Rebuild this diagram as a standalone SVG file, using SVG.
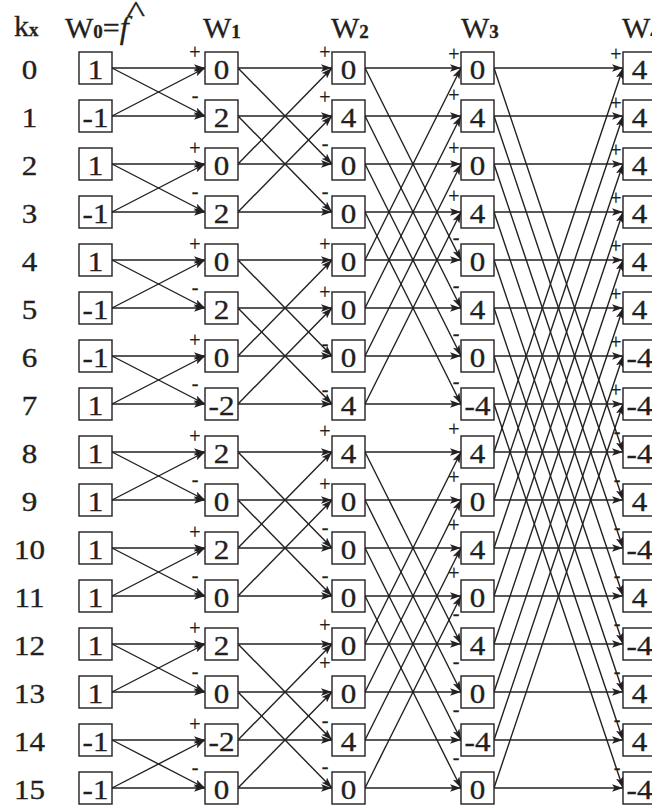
<svg xmlns="http://www.w3.org/2000/svg" width="652" height="805" viewBox="0 0 652 805">
<defs>
<style>
.b{fill:#fff;stroke:#231f20;stroke-width:1.4}
.t{font-family:"Liberation Serif","Times New Roman",serif;font-size:27px;fill:#231f20;stroke:#231f20;stroke-width:0.35;text-anchor:middle}
.h{font-family:"Liberation Serif","Times New Roman",serif;font-size:30px;fill:#231f20;stroke:#231f20;stroke-width:0.3}
.sb{font-weight:bold;font-size:19px}
.s{font-family:"Liberation Serif","Times New Roman",serif;font-size:20px;fill:#231f20;stroke:#231f20;stroke-width:0.3;text-anchor:middle}
#conn line{stroke:#231f20;stroke-width:1.4;marker-end:url(#a)}
</style>
<marker id="a" markerWidth="12" markerHeight="9" refX="11" refY="4" orient="auto" markerUnits="userSpaceOnUse"><path d="M0,0.3 L11,4 L0,7.7 L2.5,4 z" fill="#231f20"/></marker>
</defs>
<rect width="652" height="805" fill="#fff"/>
<g id="header">
<text class="h" x="14" y="36" font-size="34">k<tspan class="sb" font-size="20px">x</tspan></text>
<text class="h" x="65" y="38">W<tspan class="sb">0</tspan>=<tspan font-style="italic" font-size="32px">f</tspan></text>
<text class="h" transform="translate(136,22) scale(1.3,1)" text-anchor="middle" font-size="24" stroke-width="0">^</text>
<text class="h" x="203" y="38">W<tspan class="sb">1</tspan></text>
<text class="h" x="331" y="38">W<tspan class="sb">2</tspan></text>
<text class="h" x="461" y="38">W<tspan class="sb">3</tspan></text>
<text class="h" x="622" y="38">W<tspan class="sb">4</tspan></text>
</g>
<g id="rowlabels">
<text class="t" transform="translate(29.5,78.5) scale(1.15,1)">0</text>
<text class="t" transform="translate(29.5,126.5) scale(1.15,1)">1</text>
<text class="t" transform="translate(29.5,174.5) scale(1.15,1)">2</text>
<text class="t" transform="translate(29.5,222.5) scale(1.15,1)">3</text>
<text class="t" transform="translate(29.5,270.5) scale(1.15,1)">4</text>
<text class="t" transform="translate(29.5,318.5) scale(1.15,1)">5</text>
<text class="t" transform="translate(29.5,366.5) scale(1.15,1)">6</text>
<text class="t" transform="translate(29.5,414.5) scale(1.15,1)">7</text>
<text class="t" transform="translate(29.5,462.5) scale(1.15,1)">8</text>
<text class="t" transform="translate(29.5,510.5) scale(1.15,1)">9</text>
<text class="t" transform="translate(29.5,558.5) scale(1.15,1)">10</text>
<text class="t" transform="translate(29.5,606.5) scale(1.15,1)">11</text>
<text class="t" transform="translate(29.5,654.5) scale(1.15,1)">12</text>
<text class="t" transform="translate(29.5,702.5) scale(1.15,1)">13</text>
<text class="t" transform="translate(29.5,750.5) scale(1.15,1)">14</text>
<text class="t" transform="translate(29.5,798.5) scale(1.15,1)">15</text>
</g>
<g id="conn">
<line x1="112" y1="68" x2="205" y2="68"/><line x1="112" y1="116" x2="205" y2="68"/>
<line x1="112" y1="116" x2="205" y2="116"/><line x1="112" y1="68" x2="205" y2="116"/>
<line x1="112" y1="164" x2="205" y2="164"/><line x1="112" y1="212" x2="205" y2="164"/>
<line x1="112" y1="212" x2="205" y2="212"/><line x1="112" y1="164" x2="205" y2="212"/>
<line x1="112" y1="260" x2="205" y2="260"/><line x1="112" y1="308" x2="205" y2="260"/>
<line x1="112" y1="308" x2="205" y2="308"/><line x1="112" y1="260" x2="205" y2="308"/>
<line x1="112" y1="356" x2="205" y2="356"/><line x1="112" y1="404" x2="205" y2="356"/>
<line x1="112" y1="404" x2="205" y2="404"/><line x1="112" y1="356" x2="205" y2="404"/>
<line x1="112" y1="452" x2="205" y2="452"/><line x1="112" y1="500" x2="205" y2="452"/>
<line x1="112" y1="500" x2="205" y2="500"/><line x1="112" y1="452" x2="205" y2="500"/>
<line x1="112" y1="548" x2="205" y2="548"/><line x1="112" y1="596" x2="205" y2="548"/>
<line x1="112" y1="596" x2="205" y2="596"/><line x1="112" y1="548" x2="205" y2="596"/>
<line x1="112" y1="644" x2="205" y2="644"/><line x1="112" y1="692" x2="205" y2="644"/>
<line x1="112" y1="692" x2="205" y2="692"/><line x1="112" y1="644" x2="205" y2="692"/>
<line x1="112" y1="740" x2="205" y2="740"/><line x1="112" y1="788" x2="205" y2="740"/>
<line x1="112" y1="788" x2="205" y2="788"/><line x1="112" y1="740" x2="205" y2="788"/>

<line x1="238" y1="68" x2="332" y2="68"/><line x1="238" y1="164" x2="332" y2="68"/>
<line x1="238" y1="116" x2="332" y2="116"/><line x1="238" y1="212" x2="332" y2="116"/>
<line x1="238" y1="164" x2="332" y2="164"/><line x1="238" y1="68" x2="332" y2="164"/>
<line x1="238" y1="212" x2="332" y2="212"/><line x1="238" y1="116" x2="332" y2="212"/>
<line x1="238" y1="260" x2="332" y2="260"/><line x1="238" y1="356" x2="332" y2="260"/>
<line x1="238" y1="308" x2="332" y2="308"/><line x1="238" y1="404" x2="332" y2="308"/>
<line x1="238" y1="356" x2="332" y2="356"/><line x1="238" y1="260" x2="332" y2="356"/>
<line x1="238" y1="404" x2="332" y2="404"/><line x1="238" y1="308" x2="332" y2="404"/>
<line x1="238" y1="452" x2="332" y2="452"/><line x1="238" y1="548" x2="332" y2="452"/>
<line x1="238" y1="500" x2="332" y2="500"/><line x1="238" y1="596" x2="332" y2="500"/>
<line x1="238" y1="548" x2="332" y2="548"/><line x1="238" y1="452" x2="332" y2="548"/>
<line x1="238" y1="596" x2="332" y2="596"/><line x1="238" y1="500" x2="332" y2="596"/>
<line x1="238" y1="644" x2="332" y2="644"/><line x1="238" y1="740" x2="332" y2="644"/>
<line x1="238" y1="692" x2="332" y2="692"/><line x1="238" y1="788" x2="332" y2="692"/>
<line x1="238" y1="740" x2="332" y2="740"/><line x1="238" y1="644" x2="332" y2="740"/>
<line x1="238" y1="788" x2="332" y2="788"/><line x1="238" y1="692" x2="332" y2="788"/>

<line x1="365" y1="68" x2="461" y2="68"/><line x1="365" y1="260" x2="461" y2="68"/>
<line x1="365" y1="116" x2="461" y2="116"/><line x1="365" y1="308" x2="461" y2="116"/>
<line x1="365" y1="164" x2="461" y2="164"/><line x1="365" y1="356" x2="461" y2="164"/>
<line x1="365" y1="212" x2="461" y2="212"/><line x1="365" y1="404" x2="461" y2="212"/>
<line x1="365" y1="260" x2="461" y2="260"/><line x1="365" y1="68" x2="461" y2="260"/>
<line x1="365" y1="308" x2="461" y2="308"/><line x1="365" y1="116" x2="461" y2="308"/>
<line x1="365" y1="356" x2="461" y2="356"/><line x1="365" y1="164" x2="461" y2="356"/>
<line x1="365" y1="404" x2="461" y2="404"/><line x1="365" y1="212" x2="461" y2="404"/>
<line x1="365" y1="452" x2="461" y2="452"/><line x1="365" y1="644" x2="461" y2="452"/>
<line x1="365" y1="500" x2="461" y2="500"/><line x1="365" y1="692" x2="461" y2="500"/>
<line x1="365" y1="548" x2="461" y2="548"/><line x1="365" y1="740" x2="461" y2="548"/>
<line x1="365" y1="596" x2="461" y2="596"/><line x1="365" y1="788" x2="461" y2="596"/>
<line x1="365" y1="644" x2="461" y2="644"/><line x1="365" y1="452" x2="461" y2="644"/>
<line x1="365" y1="692" x2="461" y2="692"/><line x1="365" y1="500" x2="461" y2="692"/>
<line x1="365" y1="740" x2="461" y2="740"/><line x1="365" y1="548" x2="461" y2="740"/>
<line x1="365" y1="788" x2="461" y2="788"/><line x1="365" y1="596" x2="461" y2="788"/>

<line x1="494" y1="68" x2="623" y2="68"/><line x1="494" y1="452" x2="623" y2="68"/>
<line x1="494" y1="116" x2="623" y2="116"/><line x1="494" y1="500" x2="623" y2="116"/>
<line x1="494" y1="164" x2="623" y2="164"/><line x1="494" y1="548" x2="623" y2="164"/>
<line x1="494" y1="212" x2="623" y2="212"/><line x1="494" y1="596" x2="623" y2="212"/>
<line x1="494" y1="260" x2="623" y2="260"/><line x1="494" y1="644" x2="623" y2="260"/>
<line x1="494" y1="308" x2="623" y2="308"/><line x1="494" y1="692" x2="623" y2="308"/>
<line x1="494" y1="356" x2="623" y2="356"/><line x1="494" y1="740" x2="623" y2="356"/>
<line x1="494" y1="404" x2="623" y2="404"/><line x1="494" y1="788" x2="623" y2="404"/>
<line x1="494" y1="452" x2="623" y2="452"/><line x1="494" y1="68" x2="623" y2="452"/>
<line x1="494" y1="500" x2="623" y2="500"/><line x1="494" y1="116" x2="623" y2="500"/>
<line x1="494" y1="548" x2="623" y2="548"/><line x1="494" y1="164" x2="623" y2="548"/>
<line x1="494" y1="596" x2="623" y2="596"/><line x1="494" y1="212" x2="623" y2="596"/>
<line x1="494" y1="644" x2="623" y2="644"/><line x1="494" y1="260" x2="623" y2="644"/>
<line x1="494" y1="692" x2="623" y2="692"/><line x1="494" y1="308" x2="623" y2="692"/>
<line x1="494" y1="740" x2="623" y2="740"/><line x1="494" y1="356" x2="623" y2="740"/>
<line x1="494" y1="788" x2="623" y2="788"/><line x1="494" y1="404" x2="623" y2="788"/>
</g>
<g id="signs">
<text class="s" x="195" y="59">+</text><text class="s" x="195" y="101.5">-</text>
<text class="s" x="195" y="155">+</text><text class="s" x="195" y="197.5">-</text>
<text class="s" x="195" y="251">+</text><text class="s" x="195" y="293.5">-</text>
<text class="s" x="195" y="347">+</text><text class="s" x="195" y="389.5">-</text>
<text class="s" x="195" y="443">+</text><text class="s" x="195" y="485.5">-</text>
<text class="s" x="195" y="539">+</text><text class="s" x="195" y="581.5">-</text>
<text class="s" x="195" y="635">+</text><text class="s" x="195" y="677.5">-</text>
<text class="s" x="195" y="731">+</text><text class="s" x="195" y="773.5">-</text>

<text class="s" x="325" y="59">+</text><text class="s" x="325" y="104">+</text>
<text class="s" x="325" y="149.5">-</text><text class="s" x="325" y="197.5">-</text>
<text class="s" x="325" y="251">+</text><text class="s" x="325" y="299">+</text>
<text class="s" x="325" y="349.5">-</text><text class="s" x="325" y="395.5">-</text>
<text class="s" x="325" y="438">+</text><text class="s" x="325" y="491">+</text>
<text class="s" x="325" y="533.5">-</text><text class="s" x="325" y="581.5">-</text>
<text class="s" x="325" y="632">+</text><text class="s" x="325" y="670">+</text>
<text class="s" x="325" y="726.5">-</text><text class="s" x="325" y="772.5">-</text>

<text class="s" x="454" y="61">+</text><text class="s" x="454" y="102">+</text>
<text class="s" x="454" y="155">+</text><text class="s" x="454" y="203">+</text>
<text class="s" x="456" y="243.5">-</text><text class="s" x="456" y="291.5">-</text>
<text class="s" x="456" y="339.5">-</text><text class="s" x="456" y="387.5">-</text>
<text class="s" x="454" y="436">+</text><text class="s" x="454" y="484">+</text>
<text class="s" x="454" y="532">+</text><text class="s" x="454" y="580">+</text>
<text class="s" x="456" y="619.5">-</text><text class="s" x="456" y="667.5">-</text>
<text class="s" x="456" y="715.5">-</text><text class="s" x="456" y="763.5">-</text>

<text class="s" x="616" y="61">+</text><text class="s" x="616" y="110">+</text>
<text class="s" x="616" y="157">+</text><text class="s" x="616" y="205">+</text>
<text class="s" x="616" y="253">+</text><text class="s" x="616" y="301">+</text>
<text class="s" x="616" y="349">+</text><text class="s" x="616" y="397">+</text>
<text class="s" x="617" y="437.5">-</text><text class="s" x="617" y="485.5">-</text>
<text class="s" x="617" y="533.5">-</text><text class="s" x="617" y="581.5">-</text>
<text class="s" x="617" y="629.5">-</text><text class="s" x="617" y="677.5">-</text>
<text class="s" x="617" y="725.5">-</text><text class="s" x="617" y="773.5">-</text>
</g>
<g id="col0">
<g id="w0-0"><rect class="b" x="79" y="52" width="33" height="32"/><text class="t" transform="translate(95.5,78.5) scale(1.15,1)">1</text></g>
<g id="w0-1"><rect class="b" x="79" y="100" width="33" height="32"/><text class="t" transform="translate(95.5,126.5) scale(1.15,1)">-1</text></g>
<g id="w0-2"><rect class="b" x="79" y="148" width="33" height="32"/><text class="t" transform="translate(95.5,174.5) scale(1.15,1)">1</text></g>
<g id="w0-3"><rect class="b" x="79" y="196" width="33" height="32"/><text class="t" transform="translate(95.5,222.5) scale(1.15,1)">-1</text></g>
<g id="w0-4"><rect class="b" x="79" y="244" width="33" height="32"/><text class="t" transform="translate(95.5,270.5) scale(1.15,1)">1</text></g>
<g id="w0-5"><rect class="b" x="79" y="292" width="33" height="32"/><text class="t" transform="translate(95.5,318.5) scale(1.15,1)">-1</text></g>
<g id="w0-6"><rect class="b" x="79" y="340" width="33" height="32"/><text class="t" transform="translate(95.5,366.5) scale(1.15,1)">-1</text></g>
<g id="w0-7"><rect class="b" x="79" y="388" width="33" height="32"/><text class="t" transform="translate(95.5,414.5) scale(1.15,1)">1</text></g>
<g id="w0-8"><rect class="b" x="79" y="436" width="33" height="32"/><text class="t" transform="translate(95.5,462.5) scale(1.15,1)">1</text></g>
<g id="w0-9"><rect class="b" x="79" y="484" width="33" height="32"/><text class="t" transform="translate(95.5,510.5) scale(1.15,1)">1</text></g>
<g id="w0-10"><rect class="b" x="79" y="532" width="33" height="32"/><text class="t" transform="translate(95.5,558.5) scale(1.15,1)">1</text></g>
<g id="w0-11"><rect class="b" x="79" y="580" width="33" height="32"/><text class="t" transform="translate(95.5,606.5) scale(1.15,1)">1</text></g>
<g id="w0-12"><rect class="b" x="79" y="628" width="33" height="32"/><text class="t" transform="translate(95.5,654.5) scale(1.15,1)">1</text></g>
<g id="w0-13"><rect class="b" x="79" y="676" width="33" height="32"/><text class="t" transform="translate(95.5,702.5) scale(1.15,1)">1</text></g>
<g id="w0-14"><rect class="b" x="79" y="724" width="33" height="32"/><text class="t" transform="translate(95.5,750.5) scale(1.15,1)">-1</text></g>
<g id="w0-15"><rect class="b" x="79" y="772" width="33" height="32"/><text class="t" transform="translate(95.5,798.5) scale(1.15,1)">-1</text></g>
</g>
<g id="col1">
<g id="w1-0"><rect class="b" x="205" y="52" width="33" height="32"/><text class="t" transform="translate(221.5,78.5) scale(1.15,1)">0</text></g>
<g id="w1-1"><rect class="b" x="205" y="100" width="33" height="32"/><text class="t" transform="translate(221.5,126.5) scale(1.15,1)">2</text></g>
<g id="w1-2"><rect class="b" x="205" y="148" width="33" height="32"/><text class="t" transform="translate(221.5,174.5) scale(1.15,1)">0</text></g>
<g id="w1-3"><rect class="b" x="205" y="196" width="33" height="32"/><text class="t" transform="translate(221.5,222.5) scale(1.15,1)">2</text></g>
<g id="w1-4"><rect class="b" x="205" y="244" width="33" height="32"/><text class="t" transform="translate(221.5,270.5) scale(1.15,1)">0</text></g>
<g id="w1-5"><rect class="b" x="205" y="292" width="33" height="32"/><text class="t" transform="translate(221.5,318.5) scale(1.15,1)">2</text></g>
<g id="w1-6"><rect class="b" x="205" y="340" width="33" height="32"/><text class="t" transform="translate(221.5,366.5) scale(1.15,1)">0</text></g>
<g id="w1-7"><rect class="b" x="205" y="388" width="33" height="32"/><text class="t" transform="translate(221.5,414.5) scale(1.15,1)">-2</text></g>
<g id="w1-8"><rect class="b" x="205" y="436" width="33" height="32"/><text class="t" transform="translate(221.5,462.5) scale(1.15,1)">2</text></g>
<g id="w1-9"><rect class="b" x="205" y="484" width="33" height="32"/><text class="t" transform="translate(221.5,510.5) scale(1.15,1)">0</text></g>
<g id="w1-10"><rect class="b" x="205" y="532" width="33" height="32"/><text class="t" transform="translate(221.5,558.5) scale(1.15,1)">2</text></g>
<g id="w1-11"><rect class="b" x="205" y="580" width="33" height="32"/><text class="t" transform="translate(221.5,606.5) scale(1.15,1)">0</text></g>
<g id="w1-12"><rect class="b" x="205" y="628" width="33" height="32"/><text class="t" transform="translate(221.5,654.5) scale(1.15,1)">2</text></g>
<g id="w1-13"><rect class="b" x="205" y="676" width="33" height="32"/><text class="t" transform="translate(221.5,702.5) scale(1.15,1)">0</text></g>
<g id="w1-14"><rect class="b" x="205" y="724" width="33" height="32"/><text class="t" transform="translate(221.5,750.5) scale(1.15,1)">-2</text></g>
<g id="w1-15"><rect class="b" x="205" y="772" width="33" height="32"/><text class="t" transform="translate(221.5,798.5) scale(1.15,1)">0</text></g>
</g>
<g id="col2">
<g id="w2-0"><rect class="b" x="332" y="52" width="33" height="32"/><text class="t" transform="translate(348.5,78.5) scale(1.15,1)">0</text></g>
<g id="w2-1"><rect class="b" x="332" y="100" width="33" height="32"/><text class="t" transform="translate(348.5,126.5) scale(1.15,1)">4</text></g>
<g id="w2-2"><rect class="b" x="332" y="148" width="33" height="32"/><text class="t" transform="translate(348.5,174.5) scale(1.15,1)">0</text></g>
<g id="w2-3"><rect class="b" x="332" y="196" width="33" height="32"/><text class="t" transform="translate(348.5,222.5) scale(1.15,1)">0</text></g>
<g id="w2-4"><rect class="b" x="332" y="244" width="33" height="32"/><text class="t" transform="translate(348.5,270.5) scale(1.15,1)">0</text></g>
<g id="w2-5"><rect class="b" x="332" y="292" width="33" height="32"/><text class="t" transform="translate(348.5,318.5) scale(1.15,1)">0</text></g>
<g id="w2-6"><rect class="b" x="332" y="340" width="33" height="32"/><text class="t" transform="translate(348.5,366.5) scale(1.15,1)">0</text></g>
<g id="w2-7"><rect class="b" x="332" y="388" width="33" height="32"/><text class="t" transform="translate(348.5,414.5) scale(1.15,1)">4</text></g>
<g id="w2-8"><rect class="b" x="332" y="436" width="33" height="32"/><text class="t" transform="translate(348.5,462.5) scale(1.15,1)">4</text></g>
<g id="w2-9"><rect class="b" x="332" y="484" width="33" height="32"/><text class="t" transform="translate(348.5,510.5) scale(1.15,1)">0</text></g>
<g id="w2-10"><rect class="b" x="332" y="532" width="33" height="32"/><text class="t" transform="translate(348.5,558.5) scale(1.15,1)">0</text></g>
<g id="w2-11"><rect class="b" x="332" y="580" width="33" height="32"/><text class="t" transform="translate(348.5,606.5) scale(1.15,1)">0</text></g>
<g id="w2-12"><rect class="b" x="332" y="628" width="33" height="32"/><text class="t" transform="translate(348.5,654.5) scale(1.15,1)">0</text></g>
<g id="w2-13"><rect class="b" x="332" y="676" width="33" height="32"/><text class="t" transform="translate(348.5,702.5) scale(1.15,1)">0</text></g>
<g id="w2-14"><rect class="b" x="332" y="724" width="33" height="32"/><text class="t" transform="translate(348.5,750.5) scale(1.15,1)">4</text></g>
<g id="w2-15"><rect class="b" x="332" y="772" width="33" height="32"/><text class="t" transform="translate(348.5,798.5) scale(1.15,1)">0</text></g>
</g>
<g id="col3">
<g id="w3-0"><rect class="b" x="461" y="52" width="33" height="32"/><text class="t" transform="translate(477.5,78.5) scale(1.15,1)">0</text></g>
<g id="w3-1"><rect class="b" x="461" y="100" width="33" height="32"/><text class="t" transform="translate(477.5,126.5) scale(1.15,1)">4</text></g>
<g id="w3-2"><rect class="b" x="461" y="148" width="33" height="32"/><text class="t" transform="translate(477.5,174.5) scale(1.15,1)">0</text></g>
<g id="w3-3"><rect class="b" x="461" y="196" width="33" height="32"/><text class="t" transform="translate(477.5,222.5) scale(1.15,1)">4</text></g>
<g id="w3-4"><rect class="b" x="461" y="244" width="33" height="32"/><text class="t" transform="translate(477.5,270.5) scale(1.15,1)">0</text></g>
<g id="w3-5"><rect class="b" x="461" y="292" width="33" height="32"/><text class="t" transform="translate(477.5,318.5) scale(1.15,1)">4</text></g>
<g id="w3-6"><rect class="b" x="461" y="340" width="33" height="32"/><text class="t" transform="translate(477.5,366.5) scale(1.15,1)">0</text></g>
<g id="w3-7"><rect class="b" x="461" y="388" width="33" height="32"/><text class="t" transform="translate(477.5,414.5) scale(1.15,1)">-4</text></g>
<g id="w3-8"><rect class="b" x="461" y="436" width="33" height="32"/><text class="t" transform="translate(477.5,462.5) scale(1.15,1)">4</text></g>
<g id="w3-9"><rect class="b" x="461" y="484" width="33" height="32"/><text class="t" transform="translate(477.5,510.5) scale(1.15,1)">0</text></g>
<g id="w3-10"><rect class="b" x="461" y="532" width="33" height="32"/><text class="t" transform="translate(477.5,558.5) scale(1.15,1)">4</text></g>
<g id="w3-11"><rect class="b" x="461" y="580" width="33" height="32"/><text class="t" transform="translate(477.5,606.5) scale(1.15,1)">0</text></g>
<g id="w3-12"><rect class="b" x="461" y="628" width="33" height="32"/><text class="t" transform="translate(477.5,654.5) scale(1.15,1)">4</text></g>
<g id="w3-13"><rect class="b" x="461" y="676" width="33" height="32"/><text class="t" transform="translate(477.5,702.5) scale(1.15,1)">0</text></g>
<g id="w3-14"><rect class="b" x="461" y="724" width="33" height="32"/><text class="t" transform="translate(477.5,750.5) scale(1.15,1)">-4</text></g>
<g id="w3-15"><rect class="b" x="461" y="772" width="33" height="32"/><text class="t" transform="translate(477.5,798.5) scale(1.15,1)">0</text></g>
</g>
<g id="col4">
<g id="w4-0"><rect class="b" x="623" y="52" width="33" height="32"/><text class="t" transform="translate(639.5,78.5) scale(1.15,1)">4</text></g>
<g id="w4-1"><rect class="b" x="623" y="100" width="33" height="32"/><text class="t" transform="translate(639.5,126.5) scale(1.15,1)">4</text></g>
<g id="w4-2"><rect class="b" x="623" y="148" width="33" height="32"/><text class="t" transform="translate(639.5,174.5) scale(1.15,1)">4</text></g>
<g id="w4-3"><rect class="b" x="623" y="196" width="33" height="32"/><text class="t" transform="translate(639.5,222.5) scale(1.15,1)">4</text></g>
<g id="w4-4"><rect class="b" x="623" y="244" width="33" height="32"/><text class="t" transform="translate(639.5,270.5) scale(1.15,1)">4</text></g>
<g id="w4-5"><rect class="b" x="623" y="292" width="33" height="32"/><text class="t" transform="translate(639.5,318.5) scale(1.15,1)">4</text></g>
<g id="w4-6"><rect class="b" x="623" y="340" width="33" height="32"/><text class="t" transform="translate(639.5,366.5) scale(1.15,1)">-4</text></g>
<g id="w4-7"><rect class="b" x="623" y="388" width="33" height="32"/><text class="t" transform="translate(639.5,414.5) scale(1.15,1)">-4</text></g>
<g id="w4-8"><rect class="b" x="623" y="436" width="33" height="32"/><text class="t" transform="translate(639.5,462.5) scale(1.15,1)">-4</text></g>
<g id="w4-9"><rect class="b" x="623" y="484" width="33" height="32"/><text class="t" transform="translate(639.5,510.5) scale(1.15,1)">4</text></g>
<g id="w4-10"><rect class="b" x="623" y="532" width="33" height="32"/><text class="t" transform="translate(639.5,558.5) scale(1.15,1)">-4</text></g>
<g id="w4-11"><rect class="b" x="623" y="580" width="33" height="32"/><text class="t" transform="translate(639.5,606.5) scale(1.15,1)">4</text></g>
<g id="w4-12"><rect class="b" x="623" y="628" width="33" height="32"/><text class="t" transform="translate(639.5,654.5) scale(1.15,1)">-4</text></g>
<g id="w4-13"><rect class="b" x="623" y="676" width="33" height="32"/><text class="t" transform="translate(639.5,702.5) scale(1.15,1)">4</text></g>
<g id="w4-14"><rect class="b" x="623" y="724" width="33" height="32"/><text class="t" transform="translate(639.5,750.5) scale(1.15,1)">4</text></g>
<g id="w4-15"><rect class="b" x="623" y="772" width="33" height="32"/><text class="t" transform="translate(639.5,798.5) scale(1.15,1)">-4</text></g>
</g>
</svg>
